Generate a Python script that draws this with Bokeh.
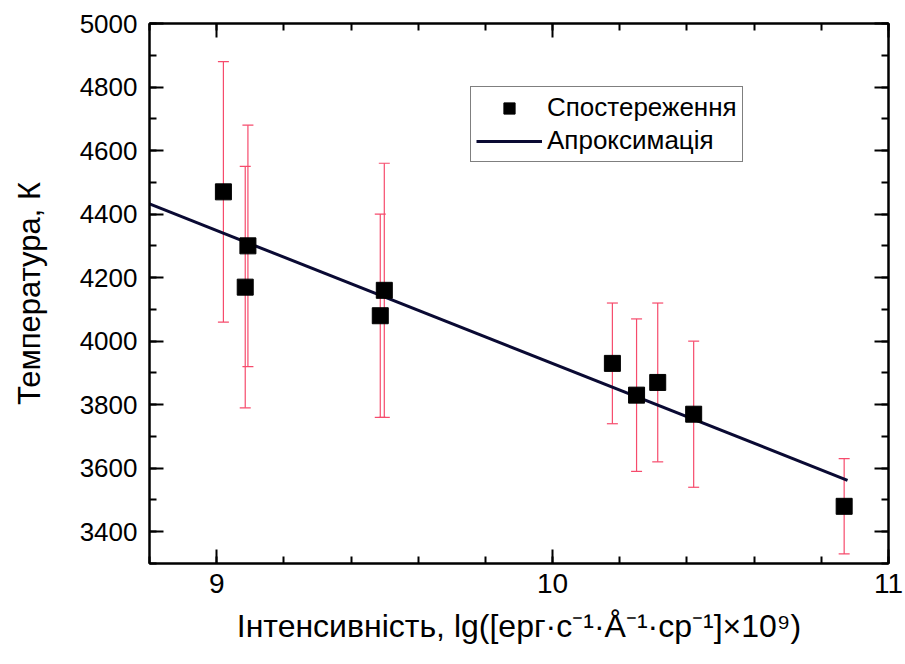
from bokeh.plotting import figure
from bokeh.models import (ColumnDataSource, Whisker, TeeHead, SingleIntervalTicker,
                          LinearAxis, Range1d, Legend, LegendItem,
                          CustomJSTickFormatter)
from bokeh.embed import file_html
from bokeh.resources import INLINE

# Observations
obs_x = [9.02, 9.085, 9.093, 9.487, 9.499, 10.178, 10.25, 10.313, 10.42, 10.868]
obs_t = [4470, 4170, 4300, 4080, 4160, 3930, 3830, 3870, 3770, 3480]
obs_err = [410, 380, 380, 320, 400, 190, 240, 250, 230, 150]

# Approximation line
fit_x = [8.8, 10.878]
fit_t = [4432, 3562]

x_label = "Інтенсивність, lg([ерг·с⁻¹·Å⁻¹·ср⁻¹]×10⁹)"
y_label = "Температура, К"
legend_labels = ["Спостереження", "Апроксимація"]

FONT = "Liberation Sans"

src = ColumnDataSource(dict(
    x=obs_x, t=obs_t,
    upper=[t + e for t, e in zip(obs_t, obs_err)],
    lower=[t - e for t, e in zip(obs_t, obs_err)],
))

p = figure(width=905, height=664, output_backend="svg", toolbar_location=None,
           x_range=Range1d(8.8, 11.0), y_range=Range1d(3300, 5000),
           min_border_left=149, min_border_right=17, min_border_top=23,
           min_border_bottom=101)
p.grid.visible = False
p.outline_line_color = "black"
p.outline_line_width = 2
p.background_fill_color = "white"
p.border_fill_color = "white"

p.xaxis.ticker = SingleIntervalTicker(interval=1, num_minor_ticks=5)
p.yaxis.ticker = SingleIntervalTicker(interval=200, num_minor_ticks=2)

def style_axis(ax, labels=True, size="26px"):
    ax.axis_line_width = 2
    ax.axis_line_color = "black"
    ax.major_tick_in = 14
    ax.major_tick_out = 0
    ax.minor_tick_in = 7
    ax.minor_tick_out = 0
    ax.major_tick_line_width = 2
    ax.minor_tick_line_width = 2
    ax.major_tick_line_color = "black"
    ax.minor_tick_line_color = "black"
    if labels:
        ax.major_label_text_font = FONT
        ax.major_label_text_font_size = size
        ax.major_label_text_color = "black"
        ax.axis_label_text_font = FONT
        ax.axis_label_text_font_style = "normal"
        ax.axis_label_text_color = "black"
    else:
        ax.formatter = CustomJSTickFormatter(code="return ''")
        ax.major_label_standoff = 0

xa = p.xaxis[0]
ya = p.yaxis[0]
style_axis(xa, size="28px")
style_axis(ya, size="26px")
xa.major_label_standoff = 10
ya.major_label_standoff = 12
xa.axis_label = x_label
xa.axis_label_text_font_size = "32px"
xa.axis_label_standoff = 12
ya.axis_label = y_label
ya.axis_label_text_font_size = "31px"
ya.axis_label_standoff = 30

top = LinearAxis(ticker=SingleIntervalTicker(interval=1, num_minor_ticks=5))
right = LinearAxis(ticker=SingleIntervalTicker(interval=200, num_minor_ticks=2))
style_axis(top, labels=False)
style_axis(right, labels=False)
p.add_layout(top, "above")
p.add_layout(right, "right")

ERR = "#f64b6c"
wh = Whisker(source=src, base="x", upper="upper", lower="lower",
             line_color=ERR, line_width=1.2,
             upper_head=TeeHead(size=11, line_color=ERR, line_width=1.2),
             lower_head=TeeHead(size=11, line_color=ERR, line_width=1.2))
p.add_layout(wh)

ln = p.line(fit_x, fit_t, line_color="#0a0a33", line_width=3)
sq = p.scatter("x", "t", source=src, marker="square", size=16,
               fill_color="black", line_color="black")

legend = Legend(items=[LegendItem(label=legend_labels[0], renderers=[sq]),
                       LegendItem(label=legend_labels[1], renderers=[ln])],
                location=(321, 401))
legend.label_text_font = FONT
legend.label_text_font_size = "26px"
legend.label_text_color = "black"
legend.label_height = 28
legend.border_line_color = "black"
legend.border_line_width = 1
legend.glyph_width = 66
legend.glyph_height = 28
legend.label_standoff = 5
legend.spacing = 2
legend.padding = 5
legend.margin = 0
legend.background_fill_alpha = 1.0
p.add_layout(legend, "center")

open("out.html", "w").write(file_html(p, INLINE))
